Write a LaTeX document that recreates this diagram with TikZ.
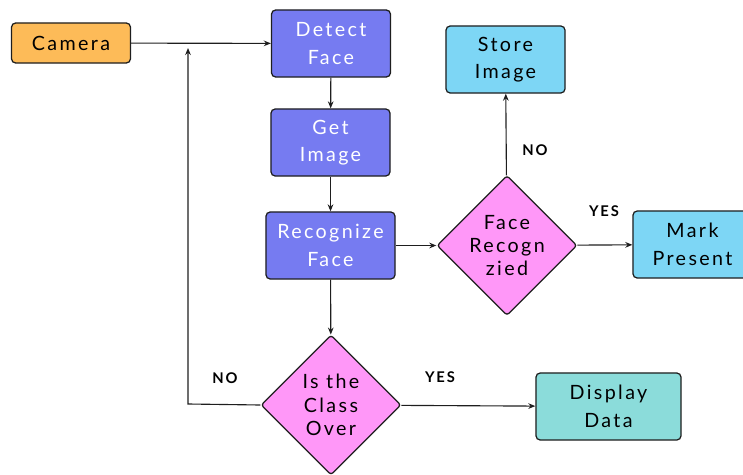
\documentclass[tikz,border=0pt]{standalone}
\usepackage{fontspec}
\setmainfont{Lato}[LetterSpace=12]
\usepackage{tikz}
\usetikzlibrary{positioning,arrows.meta,shapes.geometric}
\usepackage{xcolor}
\definecolor{ink}{HTML}{1E1E1E}
\definecolor{camfill}{HTML}{FDBB58}
\definecolor{stepfill}{HTML}{767BF1}
\definecolor{askfill}{HTML}{FF97F8}
\definecolor{outfill}{HTML}{7DD6F5}
\definecolor{datafill}{HTML}{8BDCDA}

\begin{document}
\begin{tikzpicture}[x=0.025cm,y=-0.025cm,
    box/.style={draw=ink,line width=0.9pt,rounded corners=3pt,align=center,
      minimum width=2.975cm,minimum height=1.675cm,inner sep=2pt,
      font=\fontsize{14}{19.5}\selectfont},
    ask/.style={diamond,aspect=1,draw=ink,line width=0.9pt,rounded corners=2pt,fill=askfill,
      align=center,minimum width=3.5cm,minimum height=3.5cm,inner sep=0pt,
      font=\fontsize{14}{16.5}\selectfont},
    tag/.style={font=\fontsize{10.5}{12}\bfseries\selectfont},
    flow/.style={draw=ink,line width=0.8pt,-{Stealth[length=5pt,width=4pt]}}]
  \useasboundingbox (0,0) rectangle (743,474);
  \node[box,fill=camfill,minimum height=1cm] (camera) at (71,43) {Camera};
  \node[box,fill=stepfill,text=white] (detect) at (331,43.5) {Detect\\Face};
  \node[box,fill=stepfill,text=white] (getimg) at (330.5,142.5) {Get\\Image};
  \node[box,fill=stepfill,text=white,minimum width=3.225cm] (recog) at (330.5,245.5) {Recognize\\Face};
  \node[ask] (found) at (507,245.5) {Face\\Recogn\\zied};
  \node[box,fill=outfill] (store) at (505.5,59.5) {Store\\Image};
  \node[box,fill=outfill] (mark) at (692.5,244.5) {Mark\\Present};
  \node[ask] (over) at (331,405) {Is the\\Class\\Over};
  \node[box,fill=datafill,minimum width=3.625cm] (show) at (608.5,406.5) {Display\\Data};
  \coordinate (bend) at (188,404);
  \coordinate (loopend) at (188,48);
  % arrows
  \draw[flow] (camera) -- (detect);
  \draw[flow] (detect) -- (getimg);
  \draw[flow] (getimg) -- (recog);
  \draw[flow] (recog) -- (found);
  \draw[flow] (found) -- (store);
  \draw[flow] (found) -- (mark);
  \draw[flow] (recog) -- (over);
  \draw[flow] (over) -- (show);
  \draw[flow] (over.west) -- (bend) -- (loopend);
  % labels
  \node[tag] (noa) at (535,150) {NO};
  \node[tag] (yesa) at (604,211) {YES};
  \node[tag] (nob) at (225,378) {NO};
  \node[tag] (yesb) at (440,377) {YES};
\end{tikzpicture}
\end{document}
